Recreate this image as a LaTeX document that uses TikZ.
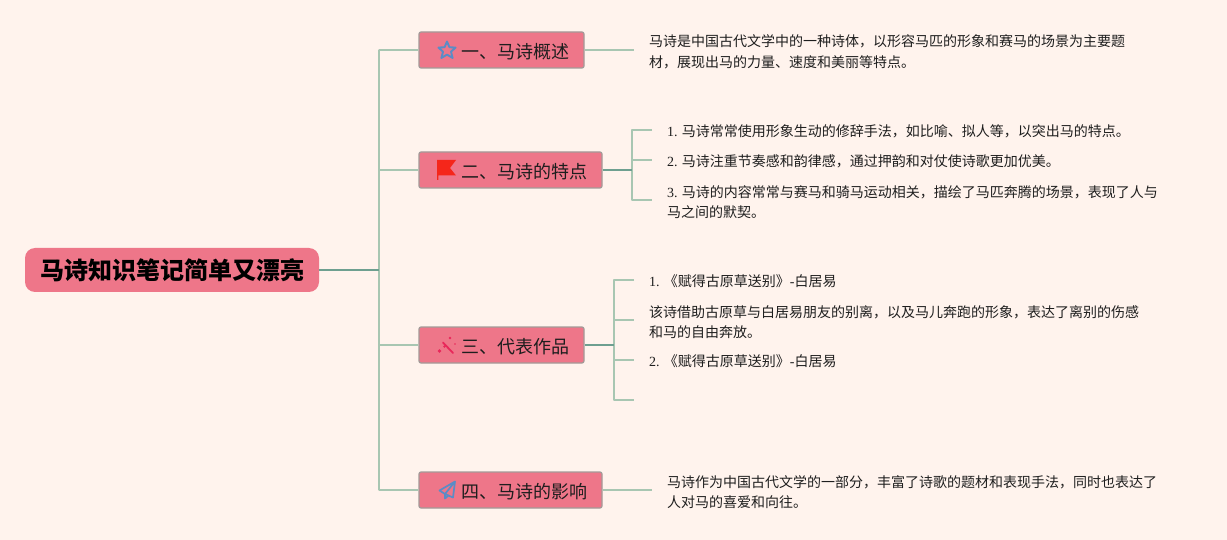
\documentclass[tikz,border=0pt]{standalone}
\usepackage{fontspec}
\setmainfont{Noto Sans CJK SC}
\newfontfamily\latinf{Liberation Serif}
\definecolor{bgc}{HTML}{FFF3ED}
\definecolor{boxc}{HTML}{EE7689}
\definecolor{edgec}{HTML}{A39A98}
\definecolor{lightl}{HTML}{A8C6B2}
\definecolor{darkl}{HTML}{6E9F90}
\definecolor{bluei}{HTML}{5B8CC6}
\definecolor{redi}{HTML}{F5261A}
\definecolor{pinki}{HTML}{E8285A}
\definecolor{textc}{HTML}{1E1E1E}
\newcommand{\nm}[1]{{\latinf #1}}
\tikzset{
  x=1pt,y=-1pt,
  rootbox/.style={fill=boxc,rounded corners=10pt,minimum width=294pt,minimum height=44pt,inner sep=0pt,font=\fontsize{24}{28}\selectfont\bfseries,text=black},
  topicbox/.style={fill=boxc,draw=edgec,line width=1.2pt,rounded corners=2pt,minimum height=36pt,inner sep=0pt},
  topiclabel/.style={anchor=west,inner sep=0pt,font=\fontsize{18}{22}\selectfont,text=textc},
  leaf/.style={anchor=west,inner sep=0pt,align=left,font=\fontsize{14}{20.5}\selectfont,text=textc},
  soft/.style={draw=lightl,line width=1.3pt},
  strong/.style={draw=darkl,line width=1.8pt},
}
\begin{document}
\begin{tikzpicture}
\useasboundingbox[fill=bgc] (0,0) rectangle (1227,540);
% hubs and free ends
\coordinate (hub) at (379,270);
\coordinate (h1) at (379,50);
\coordinate (h2) at (379,170);
\coordinate (h3) at (379,345);
\coordinate (h4) at (379,490);
\coordinate (e1) at (634,50);
\coordinate (e4) at (652,490);
\coordinate (j2) at (632,170);
\coordinate (a1) at (652,130);
\coordinate (a2) at (652,160);
\coordinate (a3) at (652,200);
\coordinate (j3) at (614,345);
\coordinate (b1) at (634,280);
\coordinate (b2) at (634,320);
\coordinate (b3) at (634,360);
\coordinate (b4) at (634,400);
% nodes
\node[rootbox] (root) at (172,270) {\raisebox{-1pt}{\hspace{1pt}马诗知识笔记简单又漂亮}};
\node[topicbox,minimum width=165pt] (t1) at (501.5,50) {};
\node[topicbox,minimum width=183pt] (t2) at (510.5,170) {};
\node[topicbox,minimum width=165pt] (t3) at (501.5,345) {};
\node[topicbox,minimum width=183pt] (t4) at (510.5,490) {};
\node[topiclabel] (l1) at (461,51.5) {一、马诗概述};
\node[topiclabel] (l2) at (461,171.5) {二、马诗的特点};
\node[topiclabel] (l3) at (461,346.5) {三、代表作品};
\node[topiclabel] (l4) at (461,491.5) {四、马诗的影响};
\node[leaf] (x1) at (649,52) {马诗是中国古代文学中的一种诗体，以形容马匹的形象和赛马的场景为主要题\\材，展现出马的力量、速度和美丽等特点。};
\node[leaf] (x21) at (667,131.5) {\nm{1.} 马诗常常使用形象生动的修辞手法，如比喻、拟人等，以突出马的特点。};
\node[leaf] (x22) at (667,161.5) {\nm{2.} 马诗注重节奏感和韵律感，通过押韵和对仗使诗歌更加优美。};
\node[leaf] (x23) at (667,202) {\nm{3.} 马诗的内容常常与赛马和骑马运动相关，描绘了马匹奔腾的场景，表现了人与\\马之间的默契。};
\node[leaf] (x31) at (649,281.5) {\nm{1.} 《赋得古原草送别》\nm{-}白居易};
\node[leaf] (x32) at (649,322) {该诗借助古原草与白居易朋友的别离，以及马儿奔跑的形象，表达了离别的伤感\\和马的自由奔放。};
\node[leaf] (x33) at (649,361.5) {\nm{2.} 《赋得古原草送别》\nm{-}白居易};
\node[leaf] (x4) at (667,492) {马诗作为中国古代文学的一部分，丰富了诗歌的题材和表现手法，同时也表达了\\人对马的喜爱和向往。};
% connectors
\draw[soft,line cap=round] (h1) -- (h4);
\draw[strong] (root.east) -- (hub);
\draw[soft] (h1) -- (t1.west);
\draw[soft] (h2) -- (t2.west);
\draw[soft] (h3) -- (t3.west);
\draw[soft] (h4) -- (t4.west);
\draw[soft] (t1.east) -- (e1);
\draw[soft] (t4.east) -- (e4);
\draw[soft,line join=round] (a1) -| (j2) |- (a3);
\draw[soft] (j2 |- a2) -- (a2);
\draw[strong] (t2.east) -- (j2);
\draw[soft,line join=round] (b1) -| (j3) |- (b4);
\draw[soft] (j3 |- b2) -- (b2);
\draw[soft] (j3 |- b3) -- (b3);
\draw[strong] (t3.east) -- (j3);
% icons
\draw[bluei,line width=1.9pt,line join=round]
  (447,41.5) -- (449.4,47.2) -- (455.6,47.6) -- (451,51.6) -- (452.6,58) -- (447,54.6) -- (441.4,58) -- (443,51.6) -- (438.4,47.6) -- (444.6,47.2) -- cycle;
\fill[redi] (437,160) -- (456,160) -- (450,168) -- (456,175.5) -- (438.3,175.5) -- (438.3,180) -- (437,180) -- cycle;
\fill[pinki] (439.5,351) circle (1.9) (444.5,346.5) circle (1.4) (450,338) circle (1.4) (455,344) circle (.8);
\draw[pinki,line width=1.8pt,line cap=round] (443,342.5) -- (453,353);
\draw[bluei,line width=1.7pt,line join=round]
  (455,481.5) -- (439.5,490.5) -- (445,494) -- (453,497.5) -- cycle
  (455,481.5) -- (445,494) -- (445,498.5) -- (448.5,495.5);
\end{tikzpicture}
\end{document}
